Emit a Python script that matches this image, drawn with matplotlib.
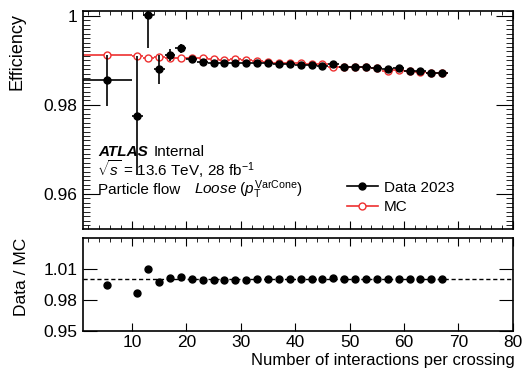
import matplotlib
matplotlib.use('Agg')
import matplotlib.pyplot as plt
from matplotlib.lines import Line2D
from matplotlib.ticker import MultipleLocator, FixedLocator, FuncFormatter
import numpy as np

plt.rcParams['font.family'] = ['Liberation Sans', 'DejaVu Sans']
plt.rcParams['mathtext.fontset'] = 'custom'
plt.rcParams['mathtext.rm'] = 'Liberation Sans'
plt.rcParams['mathtext.it'] = 'Liberation Sans:italic'
plt.rcParams['mathtext.bf'] = 'Liberation Sans:bold'

# pile-up bins (centre and half width)
mu = [5.5, 11, 13, 15, 17, 19, 21, 23, 25, 27, 29, 31, 33, 35, 37, 39,
      41, 43, 45, 47, 49, 51, 53, 55, 57, 59, 61, 63, 65, 67]
mu_err = [4.5] + [1] * 29

eff_data = [0.9855, 0.9776, 1.0001, 0.9880, 0.9912, 0.9927, 0.9903, 0.9896,
            0.9893, 0.9894, 0.9894, 0.9894, 0.9895, 0.9894, 0.9892, 0.9892,
            0.9890, 0.9890, 0.9888, 0.9892, 0.9886, 0.9886, 0.9885, 0.9883,
            0.9880, 0.9883, 0.9877, 0.9875, 0.9871, 0.9871]
eff_data_err = [0.0057, 0.0134, 0.0073, 0.0033, 0.0013, 0.0010, 0.0006, 0.0005,
                0.0004, 0.0004, 0.0004, 0.0004, 0.0004, 0.0004, 0.0004, 0.0004,
                0.0004, 0.0004, 0.0004, 0.0004, 0.0004, 0.0004, 0.0004, 0.0004,
                0.0005, 0.0005, 0.0005, 0.0005, 0.0006, 0.0006]

eff_mc = [0.9912, 0.9910, 0.9906, 0.9908, 0.9906, 0.9906, 0.9906, 0.9905,
          0.9903, 0.9901, 0.9902, 0.9901, 0.9898, 0.9896, 0.9895, 0.9894,
          0.9893, 0.9892, 0.9891, 0.9886, 0.9886, 0.9885, 0.9884, 0.9882,
          0.9877, 0.9879, 0.9875, 0.9874, 0.9871, 0.9871]
eff_mc_err = [0.0002] * 30

ratio = np.array(eff_data) / np.array(eff_mc)

red = '#ee3030'
fs_tick = 12.5

fig = plt.figure(figsize=(5.25, 3.74), dpi=100)
ax = fig.add_axes([0.158, 0.389, 0.819, 0.5816])
ax_r = fig.add_axes([0.158, 0.1163, 0.819, 0.2473])

# efficiency panel
ax.errorbar(mu, eff_mc, xerr=mu_err, yerr=eff_mc_err, fmt='o', color=red,
            mfc='white', mec=red, ms=5, mew=1.0, elinewidth=1.2, capsize=0, zorder=2)
ax.errorbar(mu, eff_data, xerr=mu_err, yerr=eff_data_err, fmt='o', color='black',
            ms=5, elinewidth=1.2, capsize=0, zorder=3)

ax.set_xlim(1, 80)
ax.set_ylim(0.9522, 1.0011)
ax.xaxis.set_major_locator(MultipleLocator(10))
ax.xaxis.set_minor_locator(MultipleLocator(2))
ax.yaxis.set_major_locator(FixedLocator([0.96, 0.98, 1.0]))
ax.yaxis.set_minor_locator(MultipleLocator(0.001))
ax.yaxis.set_major_formatter(FuncFormatter(lambda v, p: f'{v:g}'))
ax.tick_params(which='both', direction='in', top=True, right=True, labelsize=fs_tick)
ax.tick_params(axis='x', which='major', length=6, labelbottom=False)
ax.tick_params(axis='x', which='minor', length=3)
ax.tick_params(axis='y', which='major', length=12, pad=4)
ax.tick_params(axis='y', which='minor', length=5)
ax.set_ylabel('Efficiency', fontsize=13)
ax.yaxis.set_label_coords(-0.133, 0.814)

ax.text(0.035, 0.333, 'ATLAS', fontweight='bold', style='italic', fontsize=11,
        transform=ax.transAxes)
ax.text(0.165, 0.333, 'Internal', fontsize=11, transform=ax.transAxes)
ax.text(0.033, 0.241, r'$\sqrt{s}$ = 13.6 TeV, 28 fb$^{-1}$', fontsize=11,
        transform=ax.transAxes)
ax.text(0.035, 0.159, 'Particle flow', fontsize=11, transform=ax.transAxes)
ax.text(0.258, 0.159, r'$\it{Loose}$ ($p_{\rm T}^{\rm VarCone}$)', fontsize=11,
        transform=ax.transAxes)

handles = [Line2D([], [], color='black', marker='o', ms=5, lw=1.2),
           Line2D([], [], color=red, marker='o', mfc='white', mec=red, ms=5,
                  mew=1.0, lw=1.2)]
ax.legend(handles, ['Data 2023', 'MC'], loc='upper left', bbox_to_anchor=(0.614, 0.22),
          frameon=False, fontsize=11, handlelength=2.0, handletextpad=0.4,
          labelspacing=0.35, borderpad=0, borderaxespad=0)

# ratio panel
ax_r.axhline(1.0, color='black', ls=(0, (3, 2)), lw=1)
ax_r.plot(mu, ratio, 'o', color='black', ms=5)
ax_r.set_xlim(1, 80)
ax_r.set_ylim(0.95, 1.04)
ax_r.xaxis.set_major_locator(MultipleLocator(10))
ax_r.xaxis.set_minor_locator(MultipleLocator(2))
ax_r.yaxis.set_major_locator(FixedLocator([0.95, 0.98, 1.01]))
ax_r.yaxis.set_major_formatter(FuncFormatter(lambda v, p: f'{v:.2f}'))
ax_r.tick_params(which='both', direction='in', top=True, right=True, labelsize=fs_tick)
ax_r.tick_params(axis='x', which='major', length=6, pad=3)
ax_r.tick_params(axis='x', which='minor', length=3, bottom=False)
ax_r.tick_params(axis='y', which='major', length=10, pad=4)
ax_r.set_ylabel('Data / MC', fontsize=12.5)
ax_r.yaxis.set_label_coords(-0.126, 0.58)
ax_r.set_xlabel('Number of interactions per crossing', fontsize=12, loc='right')
ax_r.xaxis.set_label_coords(1.005, -0.245)

for a in (ax, ax_r):
    for s in a.spines.values():
        s.set_linewidth(1.2)

fig.savefig('out.png', dpi=100)
